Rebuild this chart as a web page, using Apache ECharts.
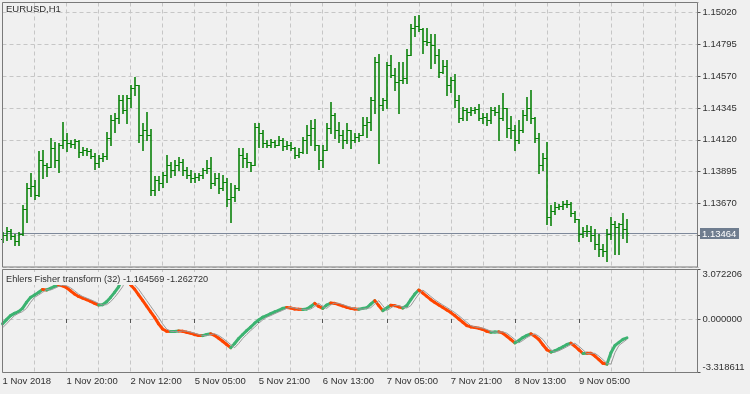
<!DOCTYPE html>
<html><head><meta charset="utf-8">
<script src="https://cdn.jsdelivr.net/npm/echarts@6/dist/echarts.min.js"></script>
<style>html,body{margin:0;padding:0;background:#f0f0f0}#c{width:750px;height:394px}</style>
</head><body><div id="c"></div><script>
const symbolTitle = 'EURUSD,H1';
const indicatorName = 'Ehlers Fisher transform (32)';
const tickLabels = ['1 Nov 2018','1 Nov 20:00','2 Nov 12:00','5 Nov 05:00','5 Nov 21:00','6 Nov 13:00','7 Nov 05:00','7 Nov 21:00','8 Nov 13:00','9 Nov 05:00'];
const slotCount = 175;
const priceMin = 1.13220, priceMax = 1.15092, priceStep = 0.00225;
const fisherMin = -3.318611, fisherMax = 3.072206;

const open = [
1.13417,1.13445,1.13473,1.13438,1.13403,1.13452,1.13628,1.13782,1.13796,1.13733,
1.13979,1.13944,1.13930,1.14064,1.13979,1.14085,1.14120,1.14099,1.14092,1.14113,
1.14035,1.14049,1.14042,1.14007,1.13958,1.13993,1.14007,1.14134,1.14260,1.14274,
1.14401,1.14331,1.14415,1.14485,1.14506,1.14155,1.14190,1.14155,1.13768,1.13839,
1.13818,1.13874,1.13944,1.13909,1.13944,1.13965,1.13909,1.13874,1.13853,1.13860,
1.13874,1.13909,1.13923,1.13818,1.13853,1.13782,1.13825,1.13698,1.13712,1.13782,
1.14014,1.13993,1.13965,1.13944,1.14211,1.14169,1.14099,1.14085,1.14106,1.14085,
1.14120,1.14078,1.14085,1.14064,1.14014,1.14035,1.14120,1.14155,1.14204,1.14085,
1.13979,1.14049,1.14204,1.14296,1.14190,1.14155,1.14120,1.14190,1.14120,1.14141,
1.14155,1.14225,1.14246,1.14401,1.14668,1.14366,1.14401,1.14647,1.14577,1.14528,
1.14542,1.14556,1.14717,1.14914,1.14928,1.14907,1.14823,1.14809,1.14788,1.14717,
1.14598,1.14640,1.14506,1.14542,1.14401,1.14274,1.14331,1.14317,1.14331,1.14338,
1.14274,1.14282,1.14260,1.14331,1.14317,1.14274,1.14345,1.14204,1.14190,1.14120,
1.14190,1.14296,1.14345,1.14274,1.14134,1.13944,1.13993,1.13572,1.13614,1.13642,
1.13649,1.13663,1.13663,1.13600,1.13557,1.13452,1.13473,1.13473,1.13445,1.13382,
1.13347,1.13333,1.13452,1.13522,1.13501,1.13522,1.13487];
const high = [
1.13466,1.13501,1.13487,1.13452,1.13466,1.13656,1.13818,1.13888,1.13839,1.14042,
1.14049,1.13958,1.14134,1.14106,1.14099,1.14246,1.14169,1.14120,1.14127,1.14120,
1.14071,1.14064,1.14057,1.14028,1.14014,1.14028,1.14176,1.14296,1.14310,1.14436,
1.14436,1.14436,1.14506,1.14563,1.14506,1.14239,1.14317,1.14197,1.13867,1.13867,
1.13895,1.14014,1.13965,1.13979,1.14000,1.13986,1.13930,1.13909,1.13888,1.13888,
1.13923,1.13979,1.14000,1.13888,1.13888,1.13874,1.13853,1.13818,1.13803,1.14064,
1.14064,1.14028,1.13965,1.14239,1.14239,1.14190,1.14120,1.14127,1.14120,1.14148,
1.14134,1.14113,1.14106,1.14071,1.14064,1.14141,1.14225,1.14260,1.14267,1.14085,
1.14085,1.14239,1.14387,1.14310,1.14246,1.14190,1.14239,1.14190,1.14169,1.14169,
1.14282,1.14282,1.14422,1.14703,1.14731,1.14415,1.14668,1.14717,1.14626,1.14668,
1.14668,1.14760,1.14942,1.14999,1.15006,1.14914,1.14914,1.14872,1.14872,1.14760,
1.14682,1.14682,1.14563,1.14584,1.14436,1.14352,1.14345,1.14352,1.14352,1.14373,
1.14310,1.14310,1.14352,1.14352,1.14366,1.14450,1.14345,1.14289,1.14225,1.14260,
1.14331,1.14422,1.14471,1.14282,1.14169,1.14028,1.14106,1.13656,1.13677,1.13663,
1.13684,1.13691,1.13677,1.13614,1.13557,1.13501,1.13515,1.13508,1.13487,1.13452,
1.13382,1.13487,1.13572,1.13543,1.13529,1.13600,1.13557];
const low = [
1.13396,1.13410,1.13417,1.13375,1.13375,1.13445,1.13536,1.13726,1.13698,1.13719,
1.13853,1.13867,1.13930,1.13930,1.13895,1.14064,1.14042,1.14071,1.14064,1.14000,
1.14014,1.14014,1.13993,1.13916,1.13930,1.13972,1.13986,1.14085,1.14176,1.14239,
1.14310,1.14239,1.14352,1.14436,1.14106,1.14049,1.14120,1.13733,1.13733,1.13768,
1.13789,1.13825,1.13860,1.13874,1.13909,1.13874,1.13853,1.13825,1.13825,1.13839,
1.13853,1.13888,1.13782,1.13803,1.13747,1.13768,1.13649,1.13536,1.13684,1.13768,
1.13930,1.13930,1.13902,1.13944,1.14071,1.14071,1.14071,1.14071,1.14071,1.14085,
1.14049,1.14057,1.14049,1.13993,1.14000,1.14028,1.14028,1.14085,1.14049,1.13916,
1.13930,1.14049,1.14169,1.14134,1.14106,1.14064,1.14099,1.14064,1.14106,1.14113,
1.14155,1.14141,1.14190,1.14310,1.13958,1.14331,1.14345,1.14563,1.14471,1.14310,
1.14521,1.14521,1.14717,1.14858,1.14893,1.14738,1.14788,1.14626,1.14661,1.14563,
1.14591,1.14436,1.14457,1.14352,1.14246,1.14260,1.14260,1.14296,1.14310,1.14260,
1.14239,1.14225,1.14239,1.14296,1.14120,1.14260,1.14141,1.14134,1.14049,1.14099,
1.14176,1.14260,1.14239,1.14106,1.13888,1.13909,1.13522,1.13515,1.13593,1.13628,
1.13628,1.13642,1.13579,1.13536,1.13403,1.13431,1.13438,1.13403,1.13347,1.13297,
1.13297,1.13262,1.13417,1.13311,1.13311,1.13424,1.13396];
const close = [
1.13445,1.13473,1.13438,1.13403,1.13452,1.13628,1.13782,1.13796,1.13733,1.13979,
1.13944,1.13930,1.14064,1.13979,1.14085,1.14120,1.14099,1.14092,1.14113,1.14035,
1.14049,1.14042,1.14007,1.13958,1.13993,1.14007,1.14134,1.14260,1.14274,1.14401,
1.14331,1.14415,1.14485,1.14506,1.14155,1.14190,1.14155,1.13768,1.13839,1.13818,
1.13874,1.13944,1.13909,1.13944,1.13965,1.13909,1.13874,1.13853,1.13860,1.13874,
1.13909,1.13923,1.13818,1.13853,1.13782,1.13825,1.13698,1.13712,1.13782,1.14014,
1.13993,1.13965,1.13944,1.14211,1.14169,1.14099,1.14085,1.14106,1.14085,1.14120,
1.14078,1.14085,1.14064,1.14014,1.14035,1.14120,1.14155,1.14204,1.14085,1.13979,
1.14049,1.14204,1.14296,1.14190,1.14155,1.14120,1.14190,1.14120,1.14141,1.14155,
1.14225,1.14246,1.14401,1.14668,1.14366,1.14401,1.14647,1.14577,1.14528,1.14542,
1.14556,1.14717,1.14914,1.14928,1.14907,1.14823,1.14809,1.14788,1.14717,1.14598,
1.14640,1.14506,1.14542,1.14401,1.14274,1.14331,1.14317,1.14331,1.14338,1.14274,
1.14282,1.14260,1.14331,1.14317,1.14274,1.14345,1.14204,1.14190,1.14120,1.14190,
1.14296,1.14345,1.14274,1.14134,1.13944,1.13993,1.13572,1.13614,1.13642,1.13649,
1.13663,1.13663,1.13600,1.13557,1.13452,1.13473,1.13473,1.13445,1.13382,1.13347,
1.13333,1.13452,1.13522,1.13501,1.13522,1.13487,1.13464];

const fisher = [
-0.30,-0.04,0.21,0.35,0.46,0.66,1.03,1.34,1.49,1.65,
1.83,1.80,1.90,2.02,2.10,2.06,1.94,1.75,1.55,1.40,
1.30,1.20,1.09,0.97,0.87,0.89,1.07,1.34,1.65,2.00,
2.55,2.62,2.12,1.85,1.50,1.15,0.80,0.45,0.10,-0.30,
-0.62,-0.76,-0.78,-0.78,-0.74,-0.76,-0.82,-0.88,-0.96,-1.02,
-1.03,-0.96,-0.92,-1.02,-1.19,-1.38,-1.58,-1.78,-1.52,-1.21,
-0.96,-0.72,-0.50,-0.26,-0.06,0.11,0.21,0.33,0.44,0.54,
0.66,0.72,0.68,0.62,0.60,0.59,0.62,0.78,0.97,0.78,
0.66,0.87,0.99,0.97,0.89,0.81,0.72,0.66,0.62,0.61,
0.66,0.70,0.93,1.14,0.83,0.52,0.68,0.85,0.83,0.75,
0.68,0.83,1.20,1.55,1.80,1.61,1.40,1.20,1.03,0.87,
0.72,0.56,0.40,0.21,0.00,-0.20,-0.41,-0.49,-0.53,-0.57,
-0.65,-0.76,-0.82,-0.81,-0.80,-0.88,-1.07,-1.27,-1.48,-1.33,
-1.15,-1.02,-0.92,-1.07,-1.27,-1.60,-1.91,-2.05,-1.97,-1.85,
-1.72,-1.58,-1.50,-1.69,-1.91,-2.14,-2.12,-2.13,-2.30,-2.52,
-2.75,-2.80,-2.09,-1.64,-1.45,-1.262720,-1.164569];
const signal = [
-0.55,-0.30,-0.04,0.21,0.35,0.46,0.66,1.03,1.34,1.49,
1.65,1.83,1.80,1.90,2.02,2.10,2.06,1.94,1.75,1.55,
1.40,1.30,1.20,1.09,0.97,0.87,0.89,1.07,1.34,1.65,
2.00,2.55,2.62,2.12,1.85,1.50,1.15,0.80,0.45,0.10,
-0.30,-0.62,-0.76,-0.78,-0.78,-0.74,-0.76,-0.82,-0.88,-0.96,
-1.02,-1.03,-0.96,-0.92,-1.02,-1.19,-1.38,-1.58,-1.78,-1.52,
-1.21,-0.96,-0.72,-0.50,-0.26,-0.06,0.11,0.21,0.33,0.44,
0.54,0.66,0.72,0.68,0.62,0.60,0.59,0.62,0.78,0.97,
0.78,0.66,0.87,0.99,0.97,0.89,0.81,0.72,0.66,0.62,
0.61,0.66,0.70,0.93,1.14,0.83,0.52,0.68,0.85,0.83,
0.75,0.68,0.83,1.20,1.55,1.80,1.61,1.40,1.20,1.03,
0.87,0.72,0.56,0.40,0.21,0.00,-0.20,-0.41,-0.49,-0.53,
-0.57,-0.65,-0.76,-0.82,-0.81,-0.80,-0.88,-1.07,-1.27,-1.48,
-1.33,-1.15,-1.02,-0.92,-1.07,-1.27,-1.60,-1.91,-2.05,-1.97,
-1.85,-1.72,-1.58,-1.50,-1.69,-1.91,-2.14,-2.12,-2.13,-2.30,
-2.52,-2.75,-2.80,-2.09,-1.64,-1.45,-1.262720];

const FONT = '"Liberation Sans", Arial, sans-serif';
const TXT = '#303030';
const GRIDC = '#c6c6c6';
const FRAME = '#7a7a7a';
const BAR = '#0a820a';
const UP = '#3cb371', DOWN = '#ff4500';
const FRAME_RIGHT = 697.5;
const lastClose = close[close.length - 1];
const categories = Array.from({length: slotCount}, (_, i) => String(i));
const isLabelIdx = idx => idx % 16 === 0 && (idx / 16) < tickLabels.length;

const chart = echarts.init(document.getElementById('c'), null, {renderer: 'canvas'});

const ohlcData = open.map((o, i) => [i, o, high[i], low[i], close[i]]);
const fisherData = fisher.map((v, i) => [i, i > 0 ? fisher[i - 1] : v, v]);

const option = {
  backgroundColor: '#f0f0f0',
  animation: false,
  textStyle: {fontFamily: FONT},
  title: [
    {text: symbolTitle, left: 6, top: 4.5, padding: 0,
     textStyle: {fontSize: 9.5, fontWeight: 'normal', color: TXT, fontFamily: FONT}},
    {text: indicatorName + ' ' + fisher[fisher.length - 1].toFixed(6) + ' ' + signal[signal.length - 1].toFixed(6),
     left: 5, top: 272, padding: [2, 1, 0, 1], backgroundColor: '#f0f0f0', z: 20,
     textStyle: {fontSize: 9.2, fontWeight: 'normal', color: TXT, fontFamily: FONT, lineHeight: 11}}
  ],
  grid: [
    {left: 2.5, right: 51, top: 2.5, bottom: 127, containLabel: false, outerBoundsMode: 'none'},
    {left: 2.5, right: 51, top: 269.5, bottom: 21.5, containLabel: false, outerBoundsMode: 'none'}
  ],
  xAxis: [
    {type: 'category', gridIndex: 0, data: categories, boundaryGap: false,
     axisLine: {show: false}, axisTick: {show: false}, axisLabel: {show: false},
     splitLine: {show: true, interval: 7, lineStyle: {color: GRIDC, type: [4, 3], width: 1}}},
    {type: 'category', gridIndex: 1, data: categories, boundaryGap: false,
     axisLine: {show: false},
     axisTick: {show: true, interval: isLabelIdx, length: 4, lineStyle: {color: '#555'}},
     axisLabel: {show: true, interval: isLabelIdx, align: 'left', margin: 4,
       fontSize: 9.5, color: TXT, fontFamily: FONT,
       formatter: (v, idx) => isLabelIdx(idx) ? tickLabels[idx / 16] : ''},
     splitLine: {show: true, interval: 7, lineStyle: {color: GRIDC, type: [4, 3], width: 1}}}
  ],
  yAxis: [
    {type: 'value', gridIndex: 0, position: 'right', offset: -1.5,
     min: priceMin, max: priceMax, interval: priceStep, scale: true,
     axisLine: {show: false},
     axisTick: {show: true, length: 3, lineStyle: {color: '#555'}},
     axisLabel: {show: true, margin: 5, fontSize: 9.5, color: TXT, fontFamily: FONT,
       showMinLabel: false, showMaxLabel: false,
       formatter: v => (Math.abs(v - lastClose) < priceStep / 2 || v < priceMin + 1e-7 || v > priceMax - 1e-7) ? '' : v.toFixed(5)},
     splitLine: {show: true, lineStyle: {color: GRIDC, type: [4, 3], width: 1}}},
    {type: 'value', gridIndex: 1, position: 'right', offset: -1.5,
     min: fisherMin, max: fisherMax, interval: -fisherMin,
     axisLine: {show: false},
     axisTick: {show: true, length: 3, lineStyle: {color: '#555'}},
     axisLabel: {show: true, margin: 5, fontSize: 9.5, color: TXT, fontFamily: FONT,
       showMinLabel: true, showMaxLabel: true,
       formatter: v => {
         if (Math.abs(v) < 1e-9) return '0.000000';
         if (v > fisherMax - 1e-7) return '{top|' + v.toFixed(6) + '}';
         if (v < fisherMin + 1e-7) return '{bot|' + v.toFixed(6) + '}';
         return v.toFixed(6);
       },
       rich: {
         top: {padding: [10, 0, 0, 0], fontSize: 9.5, color: TXT, fontFamily: FONT},
         bot: {padding: [0, 0, 10, 0], fontSize: 9.5, color: TXT, fontFamily: FONT}
       }},
     splitLine: {show: true, lineStyle: {color: GRIDC, type: [4, 3], width: 1}}}
  ],
  graphic: [
    {type: 'rect', z: 100, silent: true, shape: {x: 2.5, y: 2.5, width: 695, height: 264.5},
     style: {fill: null, stroke: FRAME, lineWidth: 1}},
    {type: 'rect', z: 100, silent: true, shape: {x: 2.5, y: 269.5, width: 695, height: 103},
     style: {fill: null, stroke: FRAME, lineWidth: 1}}
  ],
  series: [
    {type: 'custom', name: 'priceLine', xAxisIndex: 0, yAxisIndex: 0, data: [[0, lastClose]], z: 1,
     encode: {x: 0, y: 1}, silent: true, clip: false,
     renderItem: (params, api) => {
       const v = api.value(1);
       const y = Math.round(api.coord([0, v])[1]) + 0.5;
       const cs = params.coordSys;
       return {type: 'group', children: [
         {type: 'line', shape: {x1: cs.x, y1: y, x2: FRAME_RIGHT, y2: y},
          style: {stroke: '#7d889a', lineWidth: 1}},
         {type: 'rect', z2: 50, shape: {x: FRAME_RIGHT + 2.5, y: y - 5.5, width: 39, height: 11},
          style: {fill: '#6f7d8f'}},
         {type: 'text', z2: 51, style: {x: FRAME_RIGHT + 4.5, y: y + 0.5, text: v.toFixed(5),
           fill: '#ffffff', fontSize: 9.5, fontFamily: FONT, verticalAlign: 'middle', align: 'left'}}
       ]};
     }},
    {type: 'custom', name: 'bars', xAxisIndex: 0, yAxisIndex: 0, data: ohlcData, z: 3,
     encode: {x: 0, y: [1, 2, 3, 4]},
     renderItem: (params, api) => {
       const i = api.value(0), o = api.value(1), h = api.value(2), l = api.value(3), c = api.value(4);
       const top = api.coord([i, Math.max(h, o, c)]);
       const bot = api.coord([i, Math.min(l, o, c)]);
       const po = api.coord([i, o]), pc = api.coord([i, c]);
       const x = Math.round(top[0]);
       const st = {stroke: BAR, lineWidth: 1.6};
       return {type: 'group', children: [
         {type: 'line', shape: {x1: x, y1: Math.round(top[1]), x2: x, y2: Math.round(bot[1]) + 1}, style: st},
         {type: 'line', shape: {x1: x - 2, y1: Math.round(po[1]) + 0.5, x2: x, y2: Math.round(po[1]) + 0.5}, style: {stroke: BAR, lineWidth: 1}},
         {type: 'line', shape: {x1: x, y1: Math.round(pc[1]) + 0.5, x2: x + 2, y2: Math.round(pc[1]) + 0.5}, style: {stroke: BAR, lineWidth: 1}}
       ]};
     }},
    {type: 'custom', name: 'fisher', xAxisIndex: 1, yAxisIndex: 1, data: fisherData, z: 3,
     encode: {x: 0, y: [1, 2]},
     renderItem: (params, api) => {
       const i = api.value(0);
       if (i === 0) return null;
       const prev = api.value(1), v = api.value(2);
       const p0 = api.coord([i - 1, prev]), p1 = api.coord([i, v]);
       return {type: 'line', shape: {x1: p0[0], y1: p0[1], x2: p1[0], y2: p1[1]},
         style: {stroke: v >= prev ? UP : DOWN, lineWidth: 3, lineCap: 'round'}};
     }},
    {type: 'line', name: 'signal', xAxisIndex: 1, yAxisIndex: 1, data: signal, symbol: 'none',
     lineStyle: {color: '#9a9a9a', width: 1}, z: 4, silent: true}
  ]
};
chart.setOption(option);
</script></body></html>
